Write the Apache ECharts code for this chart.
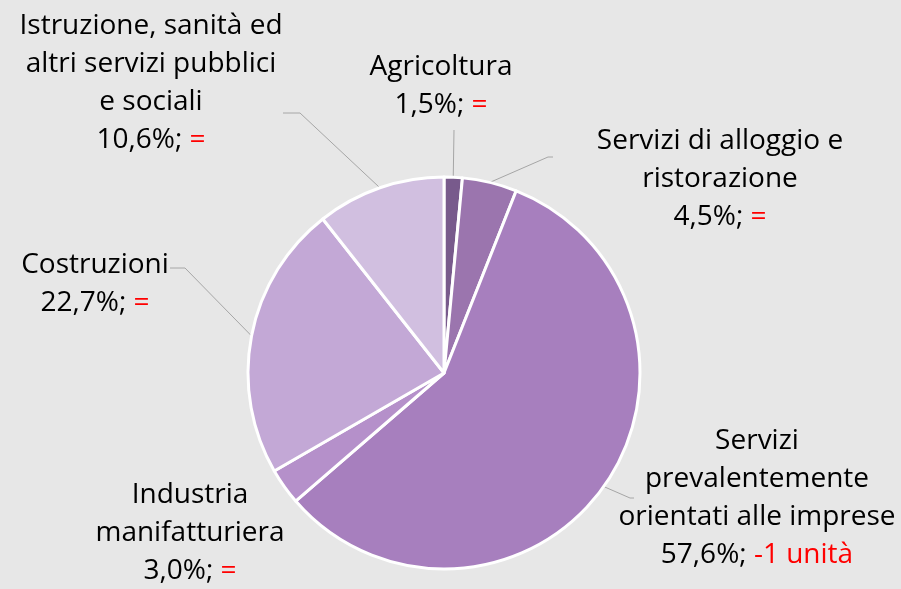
<!DOCTYPE html>
<html>
<head>
<meta charset="utf-8">
<script src="https://cdn.jsdelivr.net/npm/echarts@6/dist/echarts.min.js"></script>
<style>
    html, body { margin: 0; padding: 0; background: #e7e7e7; }
    #pie { width: 901px; height: 589px; }
</style>
</head>
<body>
<div id="pie"></div>
<script>
// dati
const categories = [
    'Agricoltura',
    'Servizi di alloggio e ristorazione',
    'Servizi prevalentemente orientati alle imprese',
    'Industria manifatturiera',
    'Costruzioni',
    'Istruzione, sanità ed altri servizi pubblici e sociali'
];
const labelText = [
    ['Agricoltura'],
    ['Servizi di alloggio e', 'ristorazione'],
    ['Servizi', 'prevalentemente', 'orientati alle imprese'],
    ['Industria', 'manifatturiera'],
    ['Costruzioni'],
    ['Istruzione, sanità ed', 'altri servizi pubblici', 'e sociali']
];
const shares = [1.5, 4.5, 57.6, 3.0, 22.7, 10.6];
const changes = ['=', '=', '-1 unità', '=', '=', '='];

// colori e posizione etichette
const colors = ['#785a8c', '#9b75ae', '#a77fbe', '#b590ca', '#c3a8d6', '#d1bfe0'];
const labelPos = [
    {x: 441, y: 86, elbow: null, end: [454, 130]},
    {x: 720, y: 179, elbow: [548, 157], end: [553, 157]},
    {x: 757, y: 498, elbow: [630, 498], end: [634, 498]},
    {x: 190, y: 533, elbow: null, end: null},
    {x: 95, y: 284, elbow: [185, 268], end: [170, 268]},
    {x: 151, y: 83, elbow: [300, 113], end: [283, 113]}
];

let myChart = echarts.init(document.getElementById('pie'));
myChart.setOption({
    backgroundColor: '#e7e7e7',
    animation: false,
    series: [{
        type: 'pie',
        center: [444, 373],
        radius: 196,
        startAngle: 90,
        clockwise: true,
        itemStyle: {borderColor: '#ffffff', borderWidth: 3},
        label: {
            show: true,
            position: 'outside',
            overflow: 'none',
            fontFamily: 'Open Sans',
            fontSize: 28,
            lineHeight: 38,
            color: '#000000',
            align: 'center',
            formatter: function (p) {
                let i = p.dataIndex;
                return labelText[i].join('\n') + '\n' +
                    shares[i].toFixed(1).replace('.', ',') + '%; {r|' + changes[i] + '}';
            },
            rich: {
                r: {color: '#ff0000', fontFamily: 'Open Sans', fontSize: 28, lineHeight: 38}
            }
        },
        labelLine: {
            show: true,
            lineStyle: {color: '#a6a6a6', width: 1}
        },
        labelLayout: function (params) {
            let lp = labelPos[params.dataIndex];
            let res = {x: lp.x, y: lp.y, align: 'center', verticalAlign: 'middle'};
            if (params.labelLinePoints && lp.end) {
                let start = params.labelLinePoints[0];
                let elbow = lp.elbow || lp.end;
                res.labelLinePoints = [start, elbow, lp.end];
            }
            return res;
        },
        data: categories.map(function (name, i) {
            return {
                name: name,
                value: shares[i],
                itemStyle: {color: colors[i]},
                labelLine: {show: labelPos[i].end !== null}
            };
        })
    }]
});
</script>
</body>
</html>
